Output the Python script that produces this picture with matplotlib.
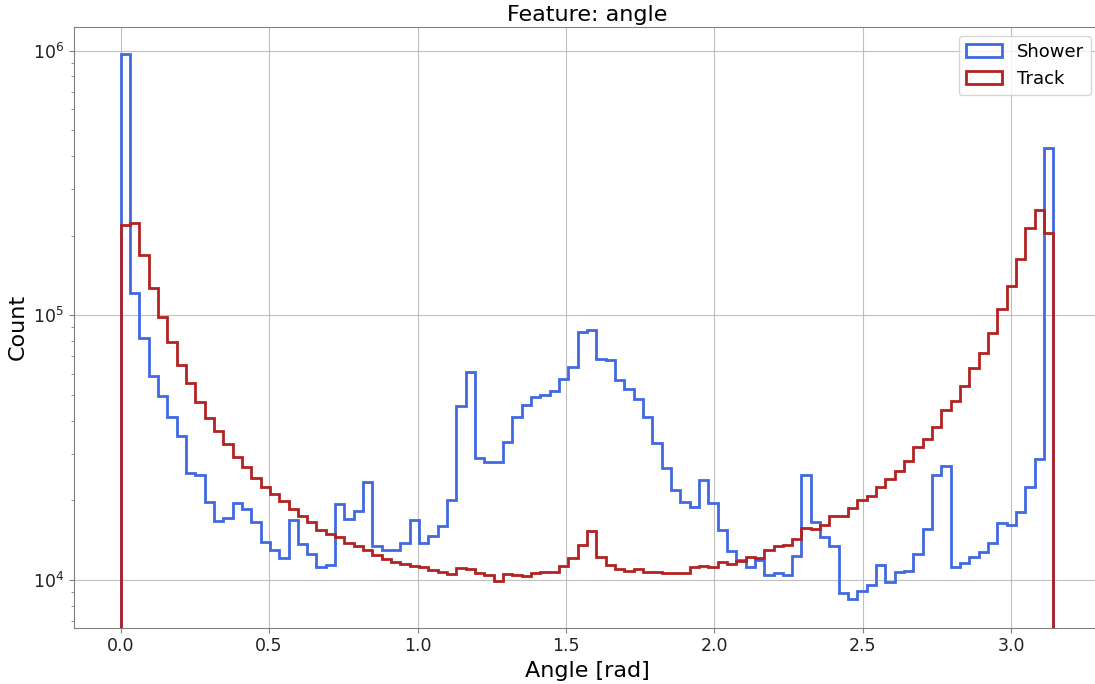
import numpy as np
import matplotlib
matplotlib.use("Agg")
import matplotlib.pyplot as plt

# 100 bins over [0, pi]
bin_edges = np.linspace(0, np.pi, 101)

shower_counts = [
    975000, 121000, 81900, 58800, 49700, 41200, 35100, 25400, 24900, 19700,
    16700, 17100, 19500, 18600, 16500, 13900, 13000, 12100, 16800, 13700,
    12500, 11200, 11400, 19300, 17000, 18200, 23400, 13400, 13000, 13000,
    13800, 16900, 13800, 14600, 16000, 20000, 45500, 60900, 28800, 27900,
    28000, 33100, 41100, 45800, 49000, 50100, 51900, 57400, 63600, 86500,
    88300, 68400, 67800, 57100, 52600, 48200, 41100, 32900, 26600, 21900,
    19700, 18900, 23900, 19500, 15400, 12900, 11900, 11200, 11900, 10450,
    10600, 10450, 12300, 25000, 16500, 14500, 13400, 8960, 8450, 9090,
    9570, 11400, 9800, 10750, 10850, 12500, 15600, 25000, 26900, 11200,
    11600, 12250, 12700, 13800, 16400, 16200, 18000, 22400, 28600, 428000,
]

track_counts = [
    218600, 223000, 169000, 126500, 98700, 79300, 64900, 55300, 47100, 41000,
    36600, 32700, 29200, 26700, 24300, 22400, 21200, 19800, 18500, 17500,
    16500, 15500, 14900, 14500, 13800, 13400, 13000, 12400, 12000, 11700,
    11500, 11300, 11200, 10900, 10700, 10500, 11100, 11000, 10600, 10400,
    9940, 10500, 10400, 10350, 10600, 10700, 10750, 11300, 12100, 13600,
    15300, 12200, 11400, 11000, 10850, 11000, 10700, 10750, 10650, 10600,
    10650, 11200, 11300, 11200, 11700, 11500, 11800, 12200, 12100, 13000,
    13400, 13500, 14300, 15700, 15600, 16100, 17500, 17400, 18700, 20100,
    20800, 22500, 24100, 25800, 28200, 31700, 34100, 37900, 43800, 47400,
    54000, 63000, 71800, 86000, 105400, 129100, 163000, 213000, 250600, 203900,
]

fig = plt.figure(figsize=(10.95, 6.84), dpi=100)
# axes extends a little past the right edge (reference was cropped tight)
ax = fig.add_axes([0.0676, 0.0823, 0.937, 0.8787])

centers = bin_edges[:-1]
ax.hist(centers, bins=bin_edges, weights=shower_counts, histtype="step",
        color="royalblue", linewidth=2, label="Shower", log=True)
ax.hist(centers, bins=bin_edges, weights=track_counts, histtype="step",
        color="firebrick", linewidth=2, label="Track", log=True)

ax.set_xlim(-0.157, 3.299)
ax.set_ylim(6600, 1.232e6)

ax.set_title("Feature: angle", fontsize=16, pad=4)
ax.set_xlabel("Angle [rad]", fontsize=16)
ax.set_ylabel("Count", fontsize=16)
ax.tick_params(axis="both", which="major", labelsize=12.5, colors="#222222")
ax.tick_params(axis="both", which="both", color="gray")
ax.grid(True, which="major", color="#b0b0b0", linewidth=0.8, alpha=0.8)
for s in ax.spines.values():
    s.set_color("gray")

ax.legend(loc="upper right", fontsize=13)

fig.savefig("out.png", dpi=100)
